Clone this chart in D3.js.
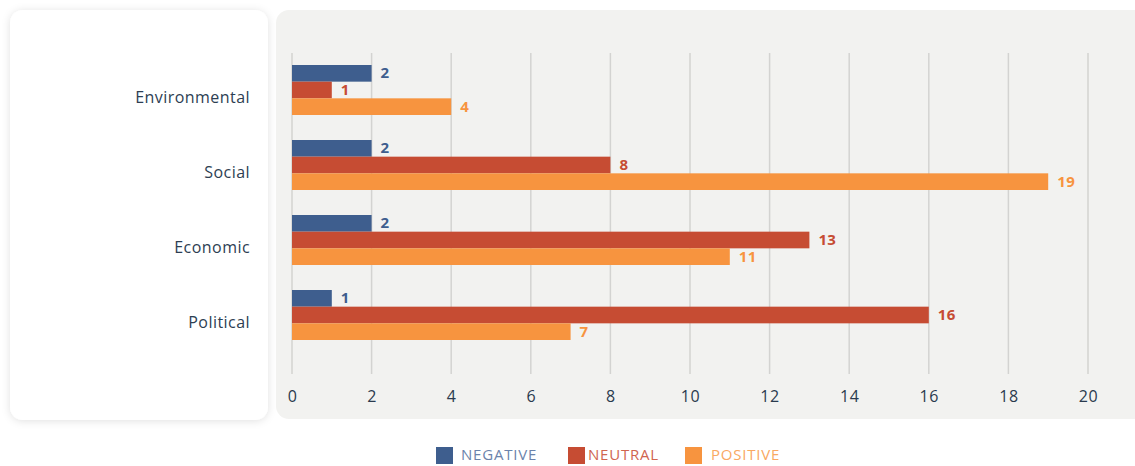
<!DOCTYPE html>
<html><head><meta charset="utf-8">
<script src="https://cdn.jsdelivr.net/npm/d3@7"></script>
<style>
html,body{margin:0;padding:0;background:#fff;}
svg{display:block;font-family:"Open Sans",sans-serif;}
</style></head>
<body>
<svg id="chart" width="1135" height="466"></svg>
<script>
const categories = ["Environmental", "Social", "Economic", "Political"];
const seriesNames = ["NEGATIVE", "NEUTRAL", "POSITIVE"];
const negativeValues = [2, 2, 2, 1];
const neutralValues = [1, 8, 13, 16];
const positiveValues = [4, 19, 11, 7];
const xTicks = [0, 2, 4, 6, 8, 10, 12, 14, 16, 18, 20];
const barColors = ["#3e5e8e", "#c64c33", "#f7943f"];
const legendTextColors = ["#6b83ab", "#d0654f", "#f9a862"];

const series = [negativeValues, neutralValues, positiveValues];
const svg = d3.select("#chart");

const defs = svg.append("defs");
const f = defs.append("filter").attr("id","sh").attr("x","-10%").attr("y","-10%").attr("width","120%").attr("height","120%");
f.append("feDropShadow").attr("dx",0).attr("dy",1).attr("stdDeviation",4).attr("flood-color","#000").attr("flood-opacity",0.12);

// left card
svg.append("rect").attr("x",10).attr("y",10).attr("width",258).attr("height",410).attr("rx",13)
  .attr("fill","#fff").attr("filter","url(#sh)");
// right panel
svg.append("rect").attr("x",276).attr("y",10).attr("width",875).attr("height",409).attr("rx",13)
  .attr("fill","#f2f2f0");

const x = d3.scaleLinear().domain([0, 20]).range([292, 1088]);
const y = d3.scaleBand().domain(categories).range([52.5, 352.5]).paddingInner(1/3).paddingOuter(1/6);
const ySub = d3.scaleBand().domain(d3.range(3)).range([0, y.bandwidth()]);

// gridlines
svg.append("g").selectAll("line").data(xTicks).join("line")
  .attr("x1", d => x(d)).attr("x2", d => x(d))
  .attr("y1", 53).attr("y2", 374)
  .attr("stroke", "#d3d3d1").attr("stroke-width", 1.5);

// x axis labels
const xAxis = d3.axisBottom(x).tickValues(xTicks).tickSize(0).tickPadding(0);
const xg = svg.append("g").attr("transform","translate(0,391)").call(xAxis);
xg.select(".domain").remove();
xg.selectAll("text").attr("font-size",16).attr("letter-spacing",0.6).attr("fill","#2a3a4e").attr("font-family","'Open Sans',sans-serif");

// category labels
const yAxis = d3.axisLeft(y).tickSize(0).tickPadding(0);
const yg = svg.append("g").attr("transform","translate(250,8)").call(yAxis);
yg.select(".domain").remove();
yg.selectAll("text").attr("font-size",16).attr("letter-spacing",0.45).attr("fill","#2d3e52").attr("font-family","'Open Sans',sans-serif");

// bars
categories.forEach((c, ci) => {
  series.forEach((vals, si) => {
    const v = vals[ci];
    const y0 = y(c) + ySub(si);
    svg.append("rect").attr("x", x(0)).attr("y", y0)
      .attr("width", x(v) - x(0)).attr("height", ySub.bandwidth())
      .attr("fill", barColors[si]);
    svg.append("text").attr("x", x(v) + 9).attr("y", y0 + ySub.bandwidth()/2 + 1)
      .attr("dominant-baseline","middle")
      .attr("font-size",15).attr("font-weight","bold").attr("letter-spacing",0.4).attr("fill", barColors[si])
      .text(v);
  });
});

// legend
const legendX = [436, 568, 685];
const legendTextX = [461, 588, 711];
const lg = svg.append("g");
seriesNames.forEach((n, i) => {
  lg.append("rect").attr("x", legendX[i]).attr("y", 447).attr("width", 17).attr("height", 17).attr("fill", barColors[i]);
  lg.append("text").attr("x", legendTextX[i]).attr("y", 456).attr("dominant-baseline","middle")
    .attr("font-size",15).attr("letter-spacing",0.8).attr("fill", legendTextColors[i]).text(n);
});
</script>
</body></html>
